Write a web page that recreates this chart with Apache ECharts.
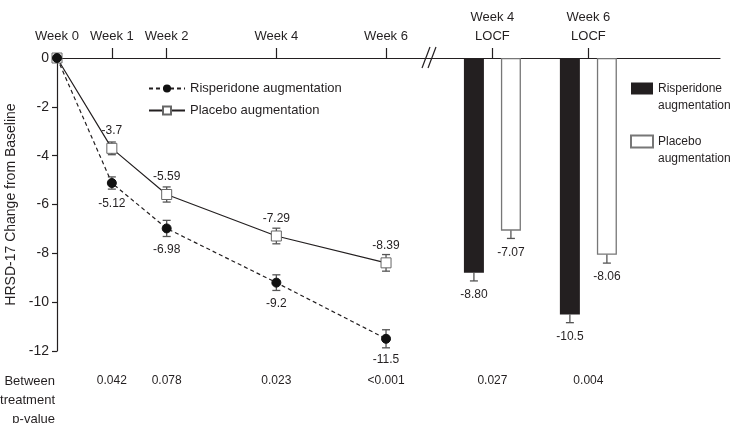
<!DOCTYPE html>
<html>
<head>
<meta charset="utf-8">
<script src="https://cdn.jsdelivr.net/npm/echarts@6/dist/echarts.min.js"></script>
<style>
  html, body { margin: 0; padding: 0; background: #fff; }
  #chart { width: 732px; height: 423px; }
</style>
</head>
<body>
<div id="chart"></div>
<script>
// weekly observed data
var weeks = [0, 1, 2, 4, 6];
var weekLabels = ['Week 0', 'Week 1', 'Week 2', 'Week 4', 'Week 6'];
var risperidone = [0, -5.12, -6.98, -9.2, -11.5];
var risperidoneErr = [0, 0.25, 0.33, 0.32, 0.37];
var placebo = [0, -3.7, -5.59, -7.29, -8.39];
var placeboErr = [0, 0.26, 0.31, 0.32, 0.34];
var weekPValues = ['', '0.042', '0.078', '0.023', '<0.001'];

// LOCF bars
var locfLabels = ['Week 4\nLOCF', 'Week 6\nLOCF'];
var locfRisperidone = [-8.80, -10.5];
var locfRisperidoneErr = [0.33, 0.34];
var locfPlacebo = [-7.07, -8.06];
var locfPlaceboErr = [0.32, 0.34];
var locfPValues = ['0.027', '0.004'];

// layout: where the LOCF groups sit on the shared x scale (after the axis break)
var locfX = [7.94, 9.69];
var xMax = 12.09;
var barOffset = 18.5;
var ink = '#231f20';
var font = 'Liberation Sans, Arial, sans-serif';

var topLabel = {}, bottomLabel = {};
weeks.forEach(function (w, i) { topLabel[w] = weekLabels[i]; bottomLabel[w] = weekPValues[i]; });
locfX.forEach(function (x, i) { topLabel[x] = locfLabels[i]; bottomLabel[x] = locfPValues[i]; });
var tickValues = weeks.slice(1).concat(locfX);

function errData(xs, ys, errs, offset, inner) {
  return xs.map(function (x, i) { return [x, ys[i], errs[i], offset, inner]; });
}

function renderErr(params, api) {
  var x = api.value(0), y = api.value(1), e = api.value(2), off = api.value(3);
  var inner = api.value(4) ? '#fff' : '#555';
  if (!e) return;
  var c = api.coord([x, y]);
  var t = api.coord([x, y + e]);
  var b = api.coord([x, y - e]);
  var px = c[0] + off, w = 4;
  var outer = { stroke: '#555', lineWidth: 1.3 };
  var inn = { stroke: inner, lineWidth: 1.3 };
  return {
    type: 'group',
    children: [
      { type: 'line', shape: { x1: px, y1: t[1], x2: px, y2: c[1] }, style: inn },
      { type: 'line', shape: { x1: px - w, y1: t[1], x2: px + w, y2: t[1] }, style: inn },
      { type: 'line', shape: { x1: px, y1: c[1], x2: px, y2: b[1] }, style: outer },
      { type: 'line', shape: { x1: px - w, y1: b[1], x2: px + w, y2: b[1] }, style: outer }
    ]
  };
}

var chart = echarts.init(document.getElementById('chart'));
chart.setOption({
  animation: false,
  textStyle: { fontFamily: font, color: ink },
  grid: { left: 57, right: 12, top: 58, bottom: 72, outerBoundsMode: 'none', containLabel: false },
  legend: [{
    left: 148, top: 82, orient: 'vertical', padding: 0, itemWidth: 36, itemHeight: 10, itemGap: 9,
    data: ['Risperidone augmentation', 'Placebo augmentation'],
    textStyle: { fontSize: 13, color: ink, fontFamily: font }
  }, {
    left: 630, top: 63, orient: 'vertical', padding: 0, itemWidth: 22, itemHeight: 12, itemGap: 2,
    icon: 'rect',
    data: ['Risperidone\naugmentation', 'Placebo\naugmentation'],
    formatter: function (name) { return '\n' + name; },
    textStyle: { fontSize: 12, color: ink, fontFamily: font, lineHeight: 17 }
  }],
  xAxis: [{
    type: 'value', position: 'top', min: 0, max: xMax,
    axisLine: { show: true, onZero: false, lineStyle: { color: ink, width: 1.2 } },
    axisTick: { show: true, customValues: tickValues, length: 10, lineStyle: { color: ink, width: 1.2 } },
    axisLabel: {
      customValues: weeks.concat(locfX), margin: 12, fontSize: 13, color: ink, lineHeight: 19,
      formatter: function (v) { return topLabel[v] || ''; }
    },
    splitLine: { show: false }
  }, {
    type: 'value', position: 'bottom', min: 0, max: xMax,
    axisLine: { show: false }, axisTick: { show: false },
    axisLabel: {
      customValues: tickValues, margin: 24, fontSize: 12, color: ink,
      formatter: function (v) { return bottomLabel[v] || ''; }
    },
    splitLine: { show: false }
  }],
  yAxis: {
    type: 'value', min: -12, max: 0, interval: 2,
    name: 'HRSD-17 Change from Baseline', nameLocation: 'middle', nameGap: 32, nameRotate: 90,
    nameTextStyle: { fontSize: 14, color: ink },
    axisLine: { show: true, lineStyle: { color: ink, width: 1.2 } },
    axisTick: { show: true, length: 5, lineStyle: { color: ink, width: 1.2 } },
    axisLabel: { fontSize: 14, color: ink, margin: 8 },
    splitLine: { show: false }
  },
  graphic: [
    { type: 'line', shape: { x1: 422, y1: 68, x2: 430, y2: 47 }, style: { stroke: ink, lineWidth: 1.2 } },
    { type: 'line', shape: { x1: 428, y1: 68, x2: 436, y2: 47 }, style: { stroke: ink, lineWidth: 1.2 } },
    {
      type: 'text', x: 55, y: 372,
      style: { text: 'Between\ntreatment\np-value', align: 'right', fontSize: 13, lineHeight: 19, fill: ink, fontFamily: font }
    }
  ],
  series: [{
    name: 'Risperidone augmentation', type: 'line', z: 4,
    data: weeks.map(function (w, i) { return [w, risperidone[i]]; }),
    symbol: 'circle', symbolSize: 9,
    lineStyle: { color: ink, width: 1.2, type: [4, 3] },
    itemStyle: { color: '#111', borderColor: '#111' },
    label: {
      show: true, position: 'bottom', distance: 10, fontSize: 12, color: ink,
      formatter: function (p) { return p.dataIndex === 0 ? '' : String(risperidone[p.dataIndex]); }
    }
  }, {
    name: 'Placebo augmentation', type: 'line', z: 3,
    data: weeks.map(function (w, i) { return [w, placebo[i]]; }),
    symbol: 'rect', symbolSize: 10,
    lineStyle: { color: ink, width: 1.2 },
    itemStyle: { color: '#fff', borderColor: '#666', borderWidth: 1 },
    label: {
      show: true, position: 'top', distance: 6, fontSize: 12, color: ink,
      formatter: function (p) { return p.dataIndex === 0 ? '' : String(placebo[p.dataIndex]); }
    }
  }, {
    name: 'Risperidone\naugmentation', type: 'bar', barWidth: 20, barGap: '85%',
    data: locfX.map(function (x, i) { return [x, locfRisperidone[i]]; }),
    itemStyle: { color: ink },
    label: {
      show: true, position: 'bottom', distance: 16, fontSize: 12, color: ink,
      formatter: function (p) { return locfRisperidone[p.dataIndex].toFixed(p.dataIndex === 0 ? 2 : 1); }
    }
  }, {
    name: 'Placebo\naugmentation', type: 'bar', barWidth: 20, barGap: '85%',
    data: locfX.map(function (x, i) { return [x, locfPlacebo[i]]; }),
    itemStyle: { color: '#fff', borderColor: '#777', borderWidth: 1.3 },
    label: {
      show: true, position: 'bottom', distance: 16, fontSize: 12, color: ink,
      formatter: function (p) { return locfPlacebo[p.dataIndex].toFixed(2); }
    }
  }, {
    type: 'custom', z: 2, clip: false, renderItem: renderErr,
    data: errData(weeks, risperidone, risperidoneErr, 0, 0)
      .concat(errData(weeks, placebo, placeboErr, 0, 0))
      .concat(errData(locfX, locfRisperidone, locfRisperidoneErr, -barOffset, 1))
      .concat(errData(locfX, locfPlacebo, locfPlaceboErr, barOffset, 0)),
    encode: { x: 0, y: 1 }, silent: true
  }]
});
window.onresize = function () { chart.resize(); };
</script>
</body>
</html>
